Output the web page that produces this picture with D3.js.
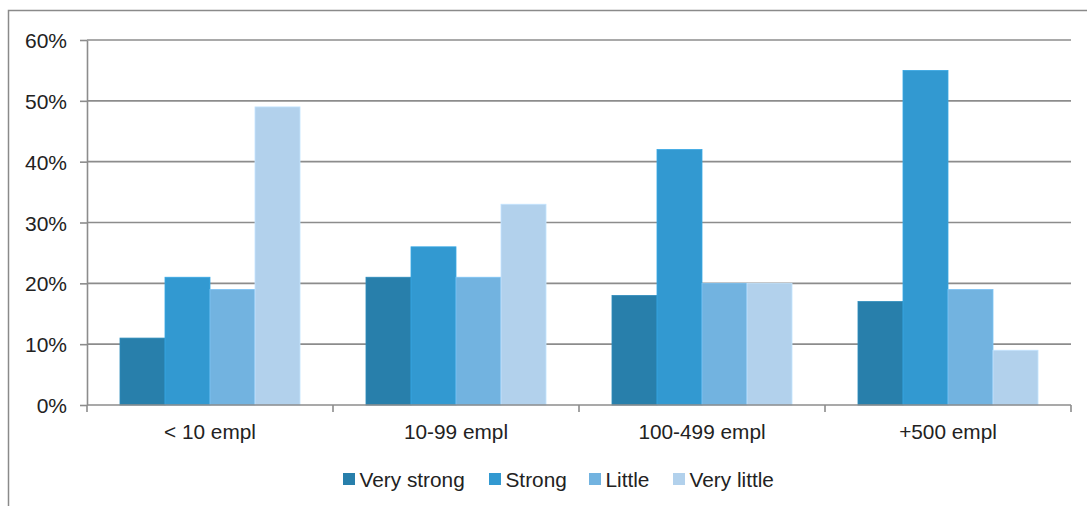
<!DOCTYPE html>
<html>
<head>
<meta charset="utf-8">
<script src="https://cdn.jsdelivr.net/npm/d3@7"></script>
<style>
  html, body { margin: 0; padding: 0; background: #fff; }
  svg { display: block; font-family: "Liberation Sans", Arial, sans-serif; }
</style>
</head>
<body>
<svg id="chart" width="1087" height="506"></svg>
<script>
const categories = ["< 10 empl", "10-99 empl", "100-499 empl", "+500 empl"];
const seriesNames = ["Very strong", "Strong", "Little", "Very little"];
const veryStrong = [11, 21, 18, 17];
const strong = [21, 26, 42, 55];
const little = [19, 21, 20, 19];
const veryLittle = [49, 33, 20, 9];
const yTicks = [0, 10, 20, 30, 40, 50, 60];
const colors = ["#287fab", "#3299d1", "#72b3e0", "#b2d1ec"];

const series = [veryStrong, strong, little, veryLittle];

(function () {
  const svg = d3.select("#chart");
  const W = 1087, H = 506;

  // outer frame (runs past the right and bottom edges)
  svg.append("rect")
    .attr("x", 8.5).attr("y", 10.5)
    .attr("width", W + 10).attr("height", H + 10)
    .attr("fill", "none").attr("stroke", "#8a8a8a").attr("stroke-width", 1.5);

  const plotL = 87, plotR = 1071, plotT = 40, plotB = 405;

  const x0 = d3.scaleBand().domain(categories).range([plotL, plotR]).paddingInner(0).paddingOuter(0);
  const x1 = d3.scaleBand().domain(seriesNames).range([0, x0.bandwidth()]).paddingOuter(0.733).paddingInner(0);
  const y = d3.scaleLinear().domain([0, 60]).range([plotB, plotT]);

  // horizontal gridlines
  svg.append("g").selectAll("line").data(yTicks.filter(d => d > 0)).join("line")
    .attr("x1", plotL).attr("x2", plotR)
    .attr("y1", d => y(d)).attr("y2", d => y(d))
    .attr("stroke", "#8c8c8c").attr("stroke-width", 1.6);

  // bars
  const groups = svg.append("g").selectAll("g").data(categories).join("g")
    .attr("transform", c => `translate(${x0(c)},0)`);
  groups.selectAll("rect")
    .data((c, ci) => seriesNames.map((s, si) => ({ s, si, v: series[si][ci] })))
    .join("rect")
    .attr("x", d => x1(d.s))
    .attr("width", x1.bandwidth())
    .attr("y", d => y(d.v))
    .attr("height", d => y(0) - y(d.v))
    .attr("fill", d => colors[d.si])
    .attr("stroke", d => d3.color(colors[d.si]).brighter(0.25))
    .attr("stroke-width", 0.8);

  // y axis
  const yAxis = d3.axisLeft(y).tickValues(yTicks).tickFormat(d => d + "%").tickSize(7).tickSizeOuter(0);
  const gy = svg.append("g").attr("transform", `translate(${plotL},0)`).call(yAxis);
  gy.select(".domain").attr("stroke", "#8c8c8c").attr("stroke-width", 1.6);
  gy.selectAll(".tick line").attr("stroke", "#8c8c8c").attr("stroke-width", 1.6);
  gy.selectAll(".tick text").attr("x", -20).attr("dy", "0.36em").attr("fill", "#222")
    .style("font-size", "21px")
    .style("font-family", "'Liberation Sans', Arial, sans-serif");

  // x axis with boundary ticks between categories
  const xAxisG = svg.append("g");
  xAxisG.append("line").attr("x1", plotL).attr("x2", plotR).attr("y1", plotB).attr("y2", plotB)
    .attr("stroke", "#8c8c8c").attr("stroke-width", 1.6);
  const boundaries = categories.map(c => x0(c)).concat([plotR]);
  xAxisG.selectAll("line.b").data(boundaries).join("line").attr("class", "b")
    .attr("x1", d => d).attr("x2", d => d).attr("y1", plotB).attr("y2", plotB + 7)
    .attr("stroke", "#8c8c8c").attr("stroke-width", 1.6);
  xAxisG.selectAll("text").data(categories).join("text")
    .attr("x", c => x0(c) + x0.bandwidth() / 2)
    .attr("y", 438.5)
    .attr("text-anchor", "middle")
    .attr("fill", "#222")
    .style("font-size", "20.8px")
    .text(c => c);

  // legend
  const legendX = [343, 489, 589, 673];
  const lg = svg.append("g").selectAll("g").data(seriesNames).join("g")
    .attr("transform", (d, i) => `translate(${legendX[i]},473)`);
  lg.append("rect").attr("width", 12).attr("height", 12).attr("fill", (d, i) => colors[i]);
  lg.append("text").attr("x", 16.5).attr("y", 14.3).attr("fill", "#222")
    .style("font-size", "20.8px").text(d => d);
})();
</script>
</body>
</html>
